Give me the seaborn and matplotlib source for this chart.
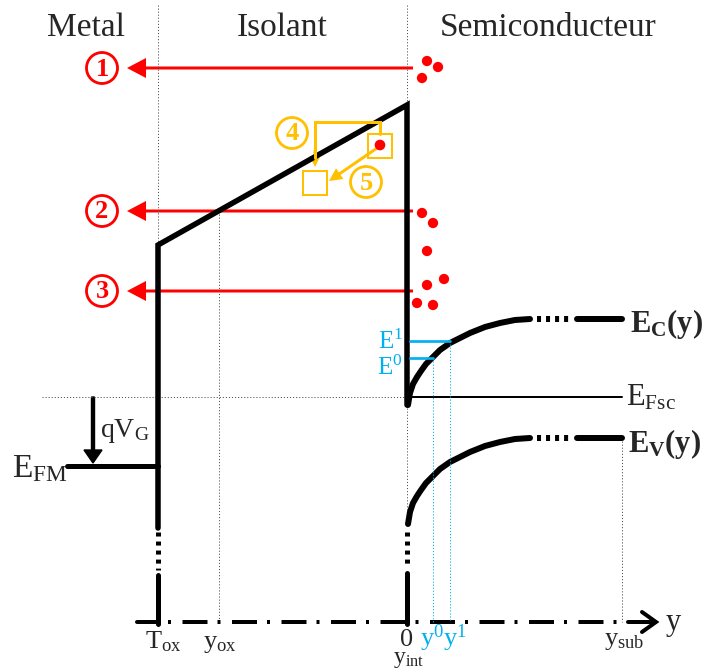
import numpy as np
import pandas as pd
import matplotlib
matplotlib.use('Agg')
import matplotlib.pyplot as plt
import seaborn as sns
from matplotlib.patches import Circle, Rectangle

# diagram coordinates, in picture pixels (y goes down)
region_names = ['Metal', 'Isolant', 'Semiconducteur']
region_x = [86, 282, 548]

x_tox = 158      # metal / oxide interface
x_int = 407      # oxide / semiconductor interface (y = 0)
x_yox = 219
x_sub = 622
y_base = 622
y_fermi = 397
y_efm = 466

ox_band_x = [158, 158, 407, 407]
ox_band_y = [528, 245, 105, 405]

# band bending in the semiconductor
bend_x = [408, 410, 413, 417, 421, 426, 432, 440, 450, 460, 470, 485, 500, 515, 530]
ev_y = [524, 512, 503, 496, 490, 483, 477, 469, 462, 457, 452, 446, 442, 439, 438]
ec_y = [405, 393, 384, 377, 371, 364, 358, 350, 343, 338, 333, 327, 323, 320, 319]

# quantised levels E0 / E1 and their turning points y0 / y1
level_names = ['0', '1']
level_x = [433, 450]
level_y = [358, 341]
level_label_y = [375, 349]

# escape paths 1..3 and electrons
escape_labels = ['1', '2', '3']
escape_y = [68, 211, 291]
electron_x = [427, 438, 422, 422, 433, 427, 427, 444, 417, 433]
electron_y = [61, 67, 78, 213, 223, 251, 285, 279, 303, 305]

RED = '#FF0000'
ORANGE = '#FFC000'
BLUE = '#00B0F0'
GREY = '#555555'


def pt(px):
    return px * 72 / 100


sns.set_theme(style='white')
plt.rcParams['font.family'] = ['Liberation Serif', 'DejaVu Serif']
plt.rcParams['mathtext.fontset'] = 'custom'
plt.rcParams['mathtext.rm'] = 'Liberation Serif'
plt.rcParams['mathtext.it'] = 'Liberation Serif:italic'
plt.rcParams['mathtext.bf'] = 'Liberation Serif:bold'
plt.rcParams['lines.scale_dashes'] = False

fig = plt.figure(figsize=(7.04, 6.72), dpi=100)
ax = fig.add_axes([0, 0, 1, 1])
ax.set_xlim(0, 704)
ax.set_ylim(672, 0)
ax.axis('off')

# region titles and dotted separators
for name, x in zip(region_names, region_x):
    ax.text(x, 36, name, fontsize=24, ha='center', va='baseline')
dot = dict(color=GREY, lw=pt(1), dashes=(0.8, 1.4))
ax.plot([x_tox, x_tox], [5, 245], **dot)
ax.plot([x_int, x_int], [5, 105], **dot)
ax.plot([42, x_int], [y_fermi, y_fermi], **dot)
ax.plot([x_yox, x_yox], [211, y_base], **dot)
ax.plot([x_int, x_int], [405, 524], **dot)
ax.plot([x_sub, x_sub], [ev_y[-1], y_base], **dot)

# oxide conduction band and interfaces
sns.lineplot(x=ox_band_x, y=ox_band_y, sort=False, estimator=None,
             color='black', linewidth=pt(5.5), ax=ax)
ax.lines[-1].set_linewidth(pt(5.5))
ax.lines[-1].set_solid_joinstyle('miter')
ax.plot([x_tox, x_tox], [532, 570], color='black', lw=pt(5), dashes=(2.9, 3.6))
ax.plot([x_tox, x_tox], [575, y_base + 2], color='black', lw=pt(5))
ax.plot([137, x_tox], [y_base, y_base], color='black', lw=pt(4))

# semiconductor bands
band = pd.DataFrame({'x': bend_x * 2, 'E': ec_y + ev_y,
                     'band': ['Ec'] * len(bend_x) + ['Ev'] * len(bend_x)})
for b, grp in band.groupby('band'):
    sns.lineplot(data=grp, x='x', y='E', sort=False, estimator=None,
                 color='black', linewidth=pt(6), ax=ax)
    ax.lines[-1].set_linewidth(pt(6))
    flat = grp['E'].iloc[-1]
    ax.plot([537, 573], [flat, flat], color='black', lw=pt(6), dashes=(2.9, 3.6))
    ax.plot([577, x_sub], [flat, flat], color='black', lw=pt(6))
ax.plot([x_int, x_int], [532, 568], color='black', lw=pt(5), dashes=(2.9, 3.6))
ax.plot([x_int, x_int], [573, y_base + 2], color='black', lw=pt(5))
ax.plot([x_int, x_sub], [y_fermi, y_fermi], color='black', lw=pt(2))

# metal Fermi level and applied bias
ax.plot([67, x_tox], [y_efm, y_efm], color='black', lw=pt(5))
ax.arrow(93, y_fermi, 0, y_efm - 3 - y_fermi, width=3, head_width=18, head_length=13,
         length_includes_head=True, color='black')

# y axis (dash-dot) with open arrow
ax.plot([x_tox, 628], [y_base, y_base], color='black', lw=pt(4),
        linestyle=(pt(25), (pt(25), pt(10), pt(3), pt(11.5))), dash_capstyle='butt')
ax.plot([628, 655], [y_base, y_base], color='black', lw=pt(4))
ax.plot([642, 656, 642], [612, y_base, 632], color='black', lw=pt(4),
        solid_joinstyle='miter')

# quantised levels
for name, lx, ly, ty in zip(level_names, level_x, level_y, level_label_y):
    ax.plot([410, lx], [ly, ly], color=BLUE, lw=pt(2.7))
    ax.plot([lx, lx], [ly, y_base], color=BLUE, lw=pt(1), dashes=(0.8, 1.4))
    ax.text(403, ty, r'$\mathrm{E^{%s}}$' % name, color=BLUE, fontsize=18,
            ha='right', va='baseline')

# escape arrows towards the metal
for lab, ey in zip(escape_labels, escape_y):
    ax.arrow(413, ey, 127 - 413, 0, width=3, head_width=20, head_length=19,
             length_includes_head=True, color=RED, lw=0)
    ax.add_patch(Circle((102, ey), 15.5, fill=False, ec=RED, lw=pt(2.8)))
    ax.text(102, ey + 7.5, lab, color=RED, fontsize=19, fontweight='bold',
            ha='center', va='baseline')
ax.scatter(electron_x, electron_y, s=np.pi * (5.8 * 0.72) ** 2, color=RED,
           edgecolor='none', zorder=5)

# trap assisted paths 4 and 5
ax.add_patch(Rectangle((368, 134), 24, 24, fill=False, ec=ORANGE, lw=pt(2)))
ax.add_patch(Rectangle((303, 171), 24, 24, fill=False, ec=ORANGE, lw=pt(2)))
ax.scatter([380], [145], s=np.pi * (6 * 0.72) ** 2, color=RED, edgecolor='none', zorder=5)
ax.plot([380, 380, 315, 315], [134, 122, 122, 158], color=ORANGE, lw=pt(3),
        solid_joinstyle='miter')
ax.arrow(315, 150, 0, 17, width=3, head_width=11, head_length=11,
         length_includes_head=True, color=ORANGE, lw=0)
ax.arrow(380, 146, 329 - 380, 181 - 146, width=3, head_width=13, head_length=13,
         length_includes_head=True, color=ORANGE, lw=0)
for lab, cx, cy in [('4', 292, 133), ('5', 366, 182)]:
    ax.add_patch(Circle((cx, cy), 15.5, fill=False, ec=ORANGE, lw=pt(2.8)))
    ax.text(cx, cy + 7.5, lab, color=ORANGE, fontsize=19, fontweight='bold',
            ha='center', va='baseline')

# labels
ax.text(12, 477, r'$\mathrm{E_{FM}}$', fontsize=24, va='baseline')
ax.text(100, 437, r'$\mathrm{qV_{G}}$', fontsize=20, va='baseline')
ax.text(630, 332, r'$\mathbf{E_{C}(y)}$', fontsize=22, va='baseline')
ax.text(628, 452, r'$\mathbf{E_{V}(y)}$', fontsize=22, va='baseline')
ax.text(626, 405, r'$\mathrm{E_{Fsc}}$', fontsize=22, va='baseline')
ax.text(163, 648, r'$\mathrm{T_{ox}}$', fontsize=19, ha='center', va='baseline')
ax.text(220, 648, r'$\mathrm{y_{ox}}$', fontsize=19, ha='center', va='baseline')
ax.text(407, 646, '0', fontsize=19, ha='center', va='baseline')
ax.text(409, 663, r'$\mathrm{y_{int}}$', fontsize=17, ha='center', va='baseline')
ax.text(420, 646, r'$\mathrm{y^{0}y^{1}}$', fontsize=19, color=BLUE, va='baseline')
ax.text(624, 645, r'$\mathrm{y_{sub}}$', fontsize=19, ha='center', va='baseline')
ax.text(666, 630, 'y', fontsize=22, va='baseline')

fig.savefig('out.png', dpi=100)
